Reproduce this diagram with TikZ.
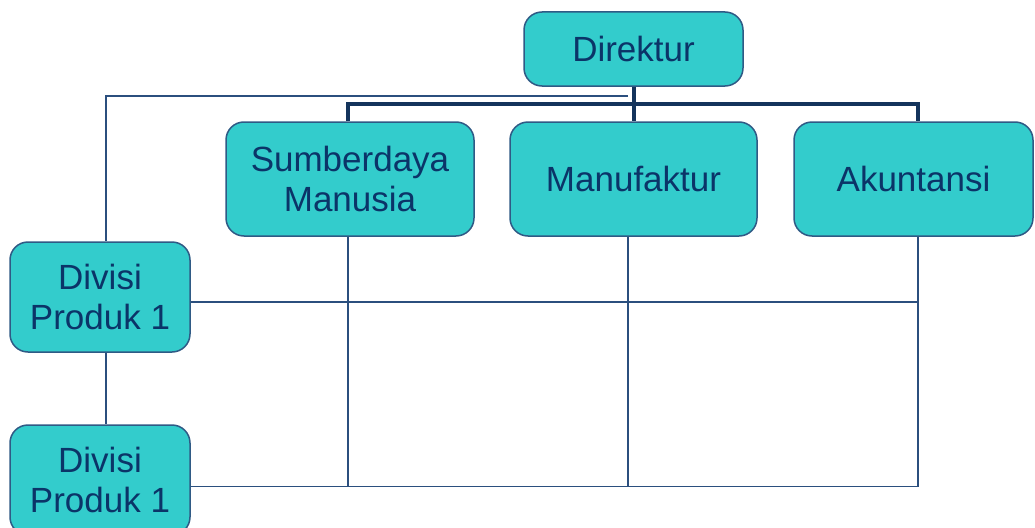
\documentclass[tikz,border=0pt]{standalone}
\usepackage{fontspec}
\setmainfont{Liberation Sans}
\usetikzlibrary{calc}
\definecolor{boxfill}{HTML}{33CCCC}
\definecolor{boxedge}{HTML}{2F5A85}
\definecolor{boxtext}{HTML}{0B3468}
\definecolor{linkthin}{HTML}{2B4F7E}
\definecolor{linkbold}{HTML}{14345C}
\begin{document}
\begin{tikzpicture}[x=1pt,y=-1pt,
  unit/.style={rounded corners=18pt, fill=boxfill, draw=boxedge, line width=1.5pt,
    text=boxtext, font=\fontsize{35}{40}\selectfont, align=center, inner sep=0pt},
  thinlink/.style={draw=linkthin, line width=1.6pt},
  boldlink/.style={draw=linkbold, line width=4pt}]
\useasboundingbox (0,0) rectangle (1035,527);
\clip (0,0) rectangle (1035,527);
\fill[white] (0,0) rectangle (1035,527);

% organisation units
\node[unit, minimum width=219pt, minimum height=74pt] (dir) at (633.5,49) {Direktur};
\node[unit, minimum width=248pt, minimum height=114pt] (sdm) at (350,179) {Sumberdaya\\Manusia};
\node[unit, minimum width=247pt, minimum height=114pt] (man) at (633.5,179) {Manufaktur};
\node[unit, minimum width=239pt, minimum height=114pt] (aku) at (913.5,179) {Akuntansi};
\node[unit, minimum width=180pt, minimum height=110pt] (div1) at (100,297) {Divisi\\Produk 1};
\node[unit, minimum width=180pt, minimum height=110pt] (div2) at (100,480) {Divisi\\Produk 1};

% functional hierarchy
\draw[boldlink] (dir.south) -- (man.north);
\draw[boldlink] ([xshift=-2pt]sdm.north) -- ++(0,-17) -| ([xshift=4.5pt]aku.north);

% project line from the director to the divisions
\coordinate (tap) at ($(dir.south)+(-5.5,9)$);
\draw[thinlink] (tap) -| ([xshift=6pt]div1.north);
\draw[thinlink] ([xshift=6pt]div1.south) -- ([xshift=6pt]div2.north);

% grid of responsibilities
\coordinate (colA) at ([xshift=-2pt]sdm.south);
\coordinate (colB) at ([xshift=-5.5pt]man.south);
\coordinate (colC) at ([xshift=4.5pt]aku.south);
\coordinate (rowA) at ([yshift=-5pt]div1.east);
\coordinate (rowB) at ([yshift=-6.5pt]div2.east);
\draw[thinlink] (colA) -- (colA |- rowB);
\draw[thinlink] (colB) -- (colB |- rowB);
\draw[thinlink] (colC) -- (colC |- rowB);
\draw[thinlink] (rowA) -- (rowA -| colC);
\draw[thinlink] (rowB) -- (rowB -| colC);
\end{tikzpicture}
\end{document}
